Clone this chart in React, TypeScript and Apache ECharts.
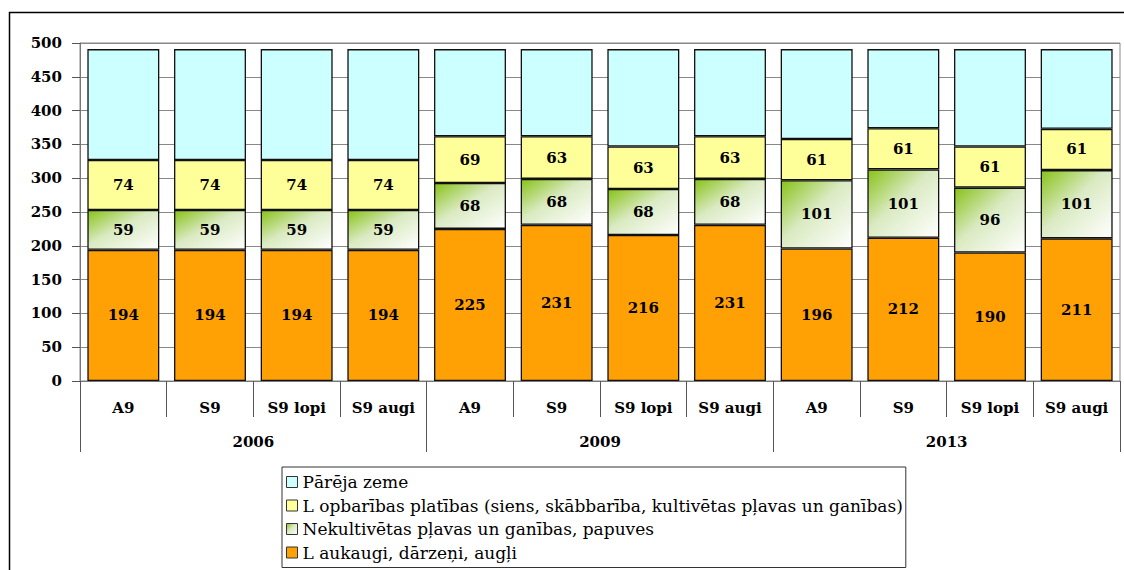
import React, { useEffect, useRef } from "react";
import * as echarts from "echarts";

const subCategories = ["A9", "S9", "S9 lopi", "S9 augi", "A9", "S9", "S9 lopi", "S9 augi", "A9", "S9", "S9 lopi", "S9 augi"];
const years = ["2006", "2009", "2013"];
const yTicks = { min: 0, max: 500, interval: 50 };

const laukaugi = [194, 194, 194, 194, 225, 231, 216, 231, 196, 212, 190, 211];
const nekultivetas = [59, 59, 59, 59, 68, 68, 68, 68, 101, 101, 96, 101];
const lopbaribas = [74, 74, 74, 74, 69, 63, 63, 63, 61, 61, 61, 61];
const pareja = [164, 164, 164, 164, 129, 129, 144, 129, 133, 117, 144, 118];

const seriesNames = [
  "Laukaugi, dārzeņi, augļi",
  "Nekultivētas pļavas un ganības, papuves",
  "Lopbarības platības (siens, skābbarība, kultivētas pļavas un ganības)",
  "Pārēja zeme",
];
const legendLabels: Record<string, string> = {
  "Pārēja zeme": "Pārēja zeme",
  "Lopbarības platības (siens, skābbarība, kultivētas pļavas un ganības)":
    "L opbarības platības (siens, skābbarība, kultivētas pļavas un ganības)",
  "Nekultivētas pļavas un ganības, papuves": "Nekultivētas pļavas un ganības, papuves",
  "Laukaugi, dārzeņi, augļi": "L aukaugi, dārzeņi, augļi",
};

const serif = "DejaVu Serif";

export default function App() {
  const ref = useRef<HTMLDivElement>(null);
  useEffect(() => {
    if (!ref.current) return;
    const chart = echarts.init(ref.current, undefined, { renderer: "svg" });
    const labelStyle = {
      show: true,
      position: "inside" as const,
      fontFamily: serif,
      fontWeight: "bold" as const,
      fontSize: 15,
      color: "#000",
    };
    const border = { borderColor: "#111", borderWidth: 1.3 };
    const greenGrad = new echarts.graphic.LinearGradient(0, 0, 1, 1, [
      { offset: 0, color: "#88C218" },
      { offset: 0.45, color: "#DAEAC2" },
      { offset: 1, color: "#FFFFFF" },
    ]);
    const option: any = {
      animation: false,
      backgroundColor: "#fff",
      grid: {
        left: 80,
        right: 4,
        top: 43,
        bottom: 189,
        show: true,
        borderColor: "#888",
        borderWidth: 1,
        containLabel: false,
      },
      graphic: [
        {
          type: "rect",
          shape: { x: 9.5, y: 12.5, width: 1200, height: 700 },
          style: { fill: "none", stroke: "#000", lineWidth: 1.5 },
          silent: true,
          z: -10,
        },
      ],
      legend: {
        orient: "vertical",
        left: 282,
        top: 467,
        selectedMode: false,
        icon: "rect",
        itemWidth: 11,
        itemHeight: 11,
        itemGap: 5.5,
        padding: [6, 3, 6, 4],
        borderColor: "#333",
        borderWidth: 1,
        data: ["Pārēja zeme", seriesNames[2], seriesNames[1], seriesNames[0]],
        formatter: (n: string) => legendLabels[n] || n,
        textStyle: { fontFamily: serif, fontSize: 17, color: "#000", lineHeight: 18 },
        itemStyle: { borderColor: "#333", borderWidth: 1 },
      },
      xAxis: [
        {
          type: "category",
          data: subCategories,
          position: "bottom",
          axisLine: { show: true, lineStyle: { color: "#777", width: 1 } },
          axisTick: { show: true, interval: 0, length: 36, lineStyle: { color: "#555" } },
          axisLabel: {
            interval: 0,
            margin: 19,
            fontFamily: serif,
            fontWeight: "bold",
            fontSize: 15,
            color: "#000",
          },
        },
        {
          type: "category",
          data: years,
          position: "bottom",
          axisLine: { show: false },
          axisTick: { show: true, interval: 0, length: 71, lineStyle: { color: "#555" } },
          axisLabel: {
            interval: 0,
            margin: 53,
            fontFamily: serif,
            fontWeight: "bold",
            fontSize: 15,
            color: "#000",
          },
        },
      ],
      yAxis: {
        type: "value",
        min: yTicks.min,
        max: yTicks.max,
        interval: yTicks.interval,
        axisLine: { show: true, lineStyle: { color: "#777" } },
        axisTick: { show: true, length: 8, lineStyle: { color: "#555" } },
        splitLine: { show: true, lineStyle: { color: "#888", width: 1 } },
        axisLabel: {
          margin: 18,
          fontFamily: serif,
          fontWeight: "bold",
          fontSize: 15,
          color: "#000",
        },
      },
      series: [
        {
          name: seriesNames[0],
          type: "bar",
          stack: "total",
          barCategoryGap: "17%",
          data: laukaugi,
          itemStyle: { color: "#FFA105", ...border },
          label: labelStyle,
        },
        {
          name: seriesNames[1],
          type: "bar",
          stack: "total",
          data: nekultivetas,
          itemStyle: { color: greenGrad, ...border },
          label: labelStyle,
        },
        {
          name: seriesNames[2],
          type: "bar",
          stack: "total",
          data: lopbaribas,
          itemStyle: { color: "#FFFF99", ...border },
          label: labelStyle,
        },
        {
          name: seriesNames[3],
          type: "bar",
          stack: "total",
          data: pareja,
          itemStyle: { color: "#CCFFFF", ...border },
          label: { show: false },
        },
      ],
    };
    chart.setOption(option);
    return () => chart.dispose();
  }, []);
  return (
    <div
      ref={ref}
      style={{ position: "fixed", left: 0, top: 0, width: 1124, height: 570, background: "#fff" }}
    />
  );
}
